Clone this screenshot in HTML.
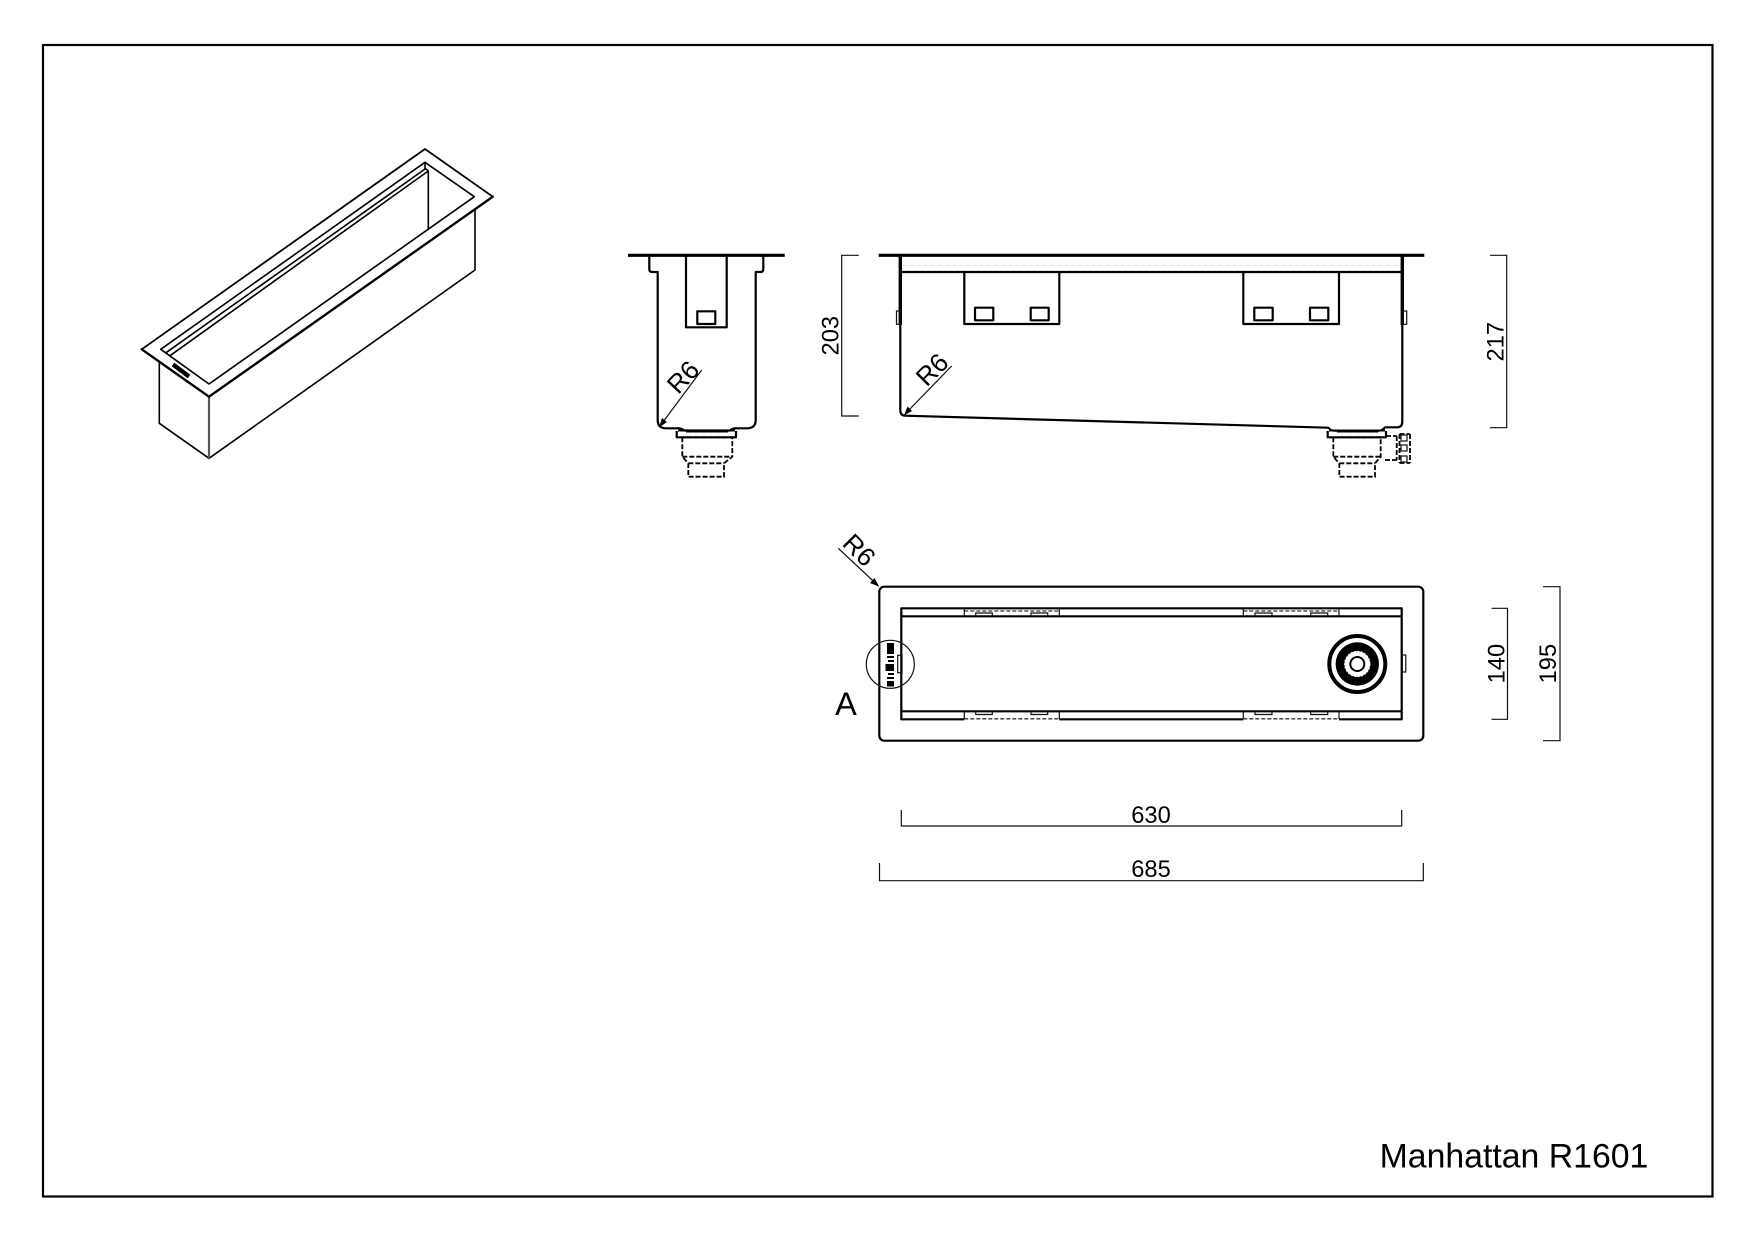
<!DOCTYPE html>
<html>
<head>
<meta charset="utf-8">
<title>Manhattan R1601</title>
<style>
html,body{margin:0;padding:0;background:#fff;width:1755px;height:1241px;overflow:hidden}
svg{display:block}
text{font-family:"Liberation Sans",Arial,sans-serif;fill:#000;text-anchor:middle}
.l{fill:none;stroke:#000;stroke-width:1.6;stroke-linejoin:round;stroke-linecap:round}
.m{fill:none;stroke:#000;stroke-width:2.2;stroke-linejoin:round}
.h{fill:none;stroke:#000;stroke-width:3.2;stroke-linejoin:round}
.t{fill:none;stroke:#111;stroke-width:1.2}
.d{fill:none;stroke:#000;stroke-width:1.8;stroke-dasharray:5 2}
.g{fill:none;stroke:#333;stroke-width:1.3;stroke-dasharray:4 2}
.dim{font-size:23.7px}
.r{font-size:26px}
</style>
</head>
<body>
<svg width="1755" height="1241" viewBox="0 0 1755 1241" xmlns="http://www.w3.org/2000/svg">
<rect x="43" y="45" width="1669.5" height="1151.5" fill="none" stroke="#000" stroke-width="2.2"/>

<!-- isometric -->
<g class="l">
<polygon points="141.7,349.3 425,149 492.8,196.7 209,396.7" stroke-width="1.8"/>
<polygon points="160.7,349.3 425,162.3 474.3,196.7 209,384"/>
<path d="M425,162.3V169L166,352.7M426,169L428.3,171L170,355.7M428.3,171V229"/>
<path d="M159.3,363.3V423.3L209,458.3L475,270V210"/>
<path d="M209,396.7V458.3" stroke="#555" stroke-width="2.2"/>
<path d="M141.7,349.3L209,396.7L492.8,196.7" stroke-width="2.4"/>
</g>
<path d="M173,364.5L189,376.5" stroke="#000" stroke-width="4.5" fill="none"/>

<!-- end view -->
<path class="h" d="M628,255.3H784.7"/>
<path class="m" d="M649.3,256V269Q649.3,272 652,272H657.7V420Q657.7,428.3 666,428.3H677Q681,428 684,430.5H730Q733,428 737,428.3H747Q755.7,428.3 755.7,420V272H760.5Q763.3,272 763.3,269V256"/>
<path class="m" d="M686,256V327.3H726.7V256"/>
<rect class="m" x="697.3" y="311.3" width="18" height="12.7"/>
<path class="t" d="M701.7,370L660,426"/>
<path d="M659,427.5L662,418L667,422Z" fill="#000"/>
<text class="r" transform="translate(683,377) rotate(-47)" y="9">R6</text>
<!-- drain 1 -->
<path d="M678,430.5H735M686,431.5H728" stroke="#000" stroke-width="2" fill="none"/>
<path class="m" d="M676.7,431V437.3H736V431" stroke-width="1.6"/>
<path class="d" d="M682.3,437.3V456.7L688.3,463.3V476.7H724V463.3L732.3,456.7V437.3H682.3M682.3,456.7H732.3M688.3,463.3H724"/>

<path class="t" d="M858.7,255.3H841.7V416H858.7"/>
<text class="dim" transform="translate(830,335.7) rotate(-90)" y="8.5">203</text>

<!-- front view -->
<path class="h" d="M878.7,255.3H1424.3"/>
<path d="M900.3,256V325M1402.3,256V325" stroke="#000" stroke-width="3.4" fill="none"/>
<path class="m" d="M900.3,325V410Q900.3,415.5 905,415.7L1328.3,427.7Q1331,430.7 1334,430.7H1379Q1382,430.7 1385,427.3H1396.7Q1402.3,427.3 1402.3,421.7V325"/>
<path class="m" d="M900.3,272H1402.3"/>
<path d="M903,265.5H1400" stroke="#ddd" stroke-width="1" stroke-dasharray="4 3" fill="none"/>
<path class="m" d="M964.3,272V324H1059.3V272"/>
<path class="m" d="M1243.3,272V324H1339V272"/>
<rect class="m" x="975" y="307.7" width="18.3" height="12.6"/>
<rect class="m" x="1030.7" y="307.7" width="18" height="12.6"/>
<rect class="m" x="1254.3" y="307.7" width="18.4" height="12.6"/>
<rect class="m" x="1310" y="307.7" width="18.3" height="12.6"/>
<rect class="t" x="896.5" y="311" width="3.5" height="13.3"/>
<rect class="t" x="1403" y="311" width="3.7" height="13.3"/>
<path class="t" d="M951.7,366L905,414"/>
<path d="M904,415.5L907.5,406.5L912,411Z" fill="#000"/>
<text class="r" transform="translate(932,369.5) rotate(-45)" y="9">R6</text>
<!-- drain 2 -->
<path d="M1329,430.5H1385M1337,431.5H1378" stroke="#000" stroke-width="2" fill="none"/>
<path class="m" d="M1327.7,431V437.3H1386V431" stroke-width="1.6"/>
<path class="d" d="M1333.3,437.3V456.7L1339.3,463.3V476.7H1375V463.3L1380.7,456.7V437.3H1333.3M1333.3,456.7H1380.7M1339.3,463.3H1375"/>
<path class="d" d="M1386,436H1397M1385,460H1397M1396.7,436V460M1399.5,434V463M1410,434V463"/>
<path class="d" d="M1399.5,434H1410M1399.5,463H1410" />
<rect class="t" x="1401" y="445" width="6" height="6"/>
<rect class="t" x="1401" y="456" width="6" height="6"/>
<rect class="t" x="1401" y="435" width="6" height="6"/>

<path class="t" d="M1490,255.3H1506.7V427.7H1490"/>
<text class="dim" transform="translate(1495,341.7) rotate(-90)" y="8.5">217</text>

<!-- plan view -->
<rect class="m" x="879.3" y="586.7" width="544" height="154" rx="5"/>
<rect class="m" x="901.3" y="608.3" width="500.4" height="111"/>
<path class="m" d="M901.3,616.3H1401.7M901.3,711.3H1401.7"/>
<g fill="#fff">
<rect x="964.3" y="717.5" width="95" height="3"/><rect x="1243.3" y="717.5" width="95.7" height="3"/>
</g>
<path class="g" d="M964.3,611H1059.3M1243.3,611H1339M964.3,718.8H1059.3M1243.3,718.8H1339"/>
<path class="t" d="M964.3,608.5V616M1059.3,608.5V616M1243.3,608.5V616M1339,608.5V616M964.3,711.5V719M1059.3,711.5V719M1243.3,711.5V719M1339,711.5V719"/>
<path class="t" d="M975.7,616V613H992.3V616M1031,616V613H1047.7V616M1255,616V613H1272V616M1310.7,616V613H1327.7V616M975.7,711V714.5H992.3V711M1031,711V714.5H1047.7V711M1255,711V714.5H1272V711M1310.7,711V714.5H1327.7V711"/>
<circle class="t" cx="890.3" cy="664.3" r="24"/>
<g fill="#000">
<rect x="887" y="643" width="7" height="11"/>
<rect x="887" y="656" width="7" height="2"/>
<rect x="888" y="660" width="6" height="2"/>
<rect x="885.5" y="664" width="8.5" height="7"/>
<rect x="888" y="673" width="6" height="2"/>
<rect x="887" y="677" width="7" height="2"/>
<rect x="887" y="681" width="7" height="5.5"/>
</g>
<rect class="t" x="897.7" y="655.3" width="4.3" height="17.4" fill="#fff"/>
<rect class="t" x="1402.3" y="655" width="3.5" height="17"/>
<circle cx="1357.3" cy="664" r="28" fill="none" stroke="#000" stroke-width="4"/>
<circle cx="1357.3" cy="664" r="21.7" fill="#000"/>
<circle cx="1357.3" cy="664" r="12.7" fill="#fff" stroke="#fff" stroke-width="1" stroke-dasharray="2 1.5"/>
<circle cx="1357.3" cy="664" r="7" fill="#fff" stroke="#000" stroke-width="2"/>
<path class="t" d="M838.3,548.3L878,585.5"/>
<path d="M879.3,586.7L870,583L874.5,578Z" fill="#000"/>
<text class="r" transform="translate(859.3,550) rotate(45)" y="9">R6</text>
<text x="846" y="715" style="font-size:32.5px">A</text>

<path class="t" d="M1491.6,608.3H1507.5V719.3H1491.6"/>
<text class="dim" transform="translate(1496,663.6) rotate(-90)" y="8.5">140</text>
<path class="t" d="M1543,586.7H1560V740.7H1543"/>
<text class="dim" transform="translate(1547.6,663.6) rotate(-90)" y="8.5">195</text>
<path class="t" d="M901.3,810V826H1401.7V810"/>
<text class="dim" x="1151" y="823">630</text>
<path class="t" d="M879.5,863V880.7H1423.3V863"/>
<text class="dim" x="1151" y="877">685</text>

<text x="1514" y="1167.7" style="font-size:33.8px">Manhattan R1601</text>
</svg>
</body>
</html>
